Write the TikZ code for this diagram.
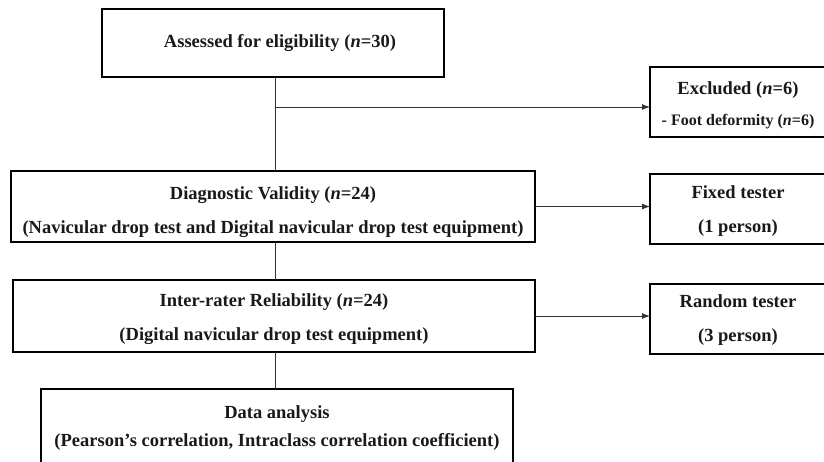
\documentclass[tikz,border=0pt]{standalone}
\usepackage{fontspec}
\setmainfont{Liberation Serif}
\usetikzlibrary{arrows.meta}
\newcommand{\twolines}[3]{\raisebox{#1}[\height][\depth]{\begin{tabular}{@{}c@{}}#2\\#3\end{tabular}}}
\begin{document}
\begin{tikzpicture}[x=1pt,y=-1pt,
  box/.style={draw=black, line width=1.2pt, inner sep=0pt, outer sep=0pt,
    align=center, font=\fontsize{18.5}{34}\selectfont\bfseries, text=black!90},
  conn/.style={draw=black!80, line width=0.9pt},
  arr/.style={conn, -{Latex[length=8pt,width=6pt]}}]
\useasboundingbox (0,0) rectangle (824,461);
\fill[white] (0,0) rectangle (824,461);
\node[box, minimum width=342pt, minimum height=68pt] (top) at (273,43)
  {\hspace*{14pt}Assessed for eligibility (\textit{n}=30)};
\node[box, minimum width=176pt, minimum height=70pt,
  font=\fontsize{18.5}{31}\selectfont\bfseries] (exc) at (738,102)
  {\twolines{-2pt}{Excluded (\textit{n}=6)}{\fontsize{16}{31}\selectfont - Foot deformity (\textit{n}=6)}};
\node[box, minimum width=524pt, minimum height=71pt] (diag) at (273,206.5)
  {\twolines{-3pt}{Diagnostic Validity (\textit{n}=24)}{(Navicular drop test and Digital navicular drop test equipment)}};
\node[box, minimum width=176pt, minimum height=70pt] (fixed) at (738,209)
  {\twolines{0pt}{Fixed tester}{(1 person)}};
\node[box, minimum width=522pt, minimum height=72pt] (inter) at (274,316)
  {\twolines{-1pt}{Inter-rater Reliability (\textit{n}=24)}{(Digital navicular drop test equipment)}};
\node[box, minimum width=176pt, minimum height=70pt] (rand) at (738,319)
  {\twolines{1pt}{Random tester}{(3 person)}};
\node[box, minimum width=472pt, minimum height=74pt, font=\fontsize{18.5}{28}\selectfont\bfseries] (data) at (277,426)
  {\twolines{-1pt}{Data analysis}{(Pearson’s correlation, Intraclass correlation coefficient)}};
\coordinate (br) at (275,107);
\draw[conn] (top.south -| br) -- (br |- diag.north);
\draw[arr] (br) -- (br -| exc.west);
\draw[conn] (br |- diag.south) -- (br |- inter.north);
\draw[conn] (br |- inter.south) -- (br |- data.north);
\draw[arr] (diag.east) -- (diag.east -| fixed.west);
\draw[arr] (inter.east) -- (inter.east -| rand.west);
\end{tikzpicture}
\end{document}
